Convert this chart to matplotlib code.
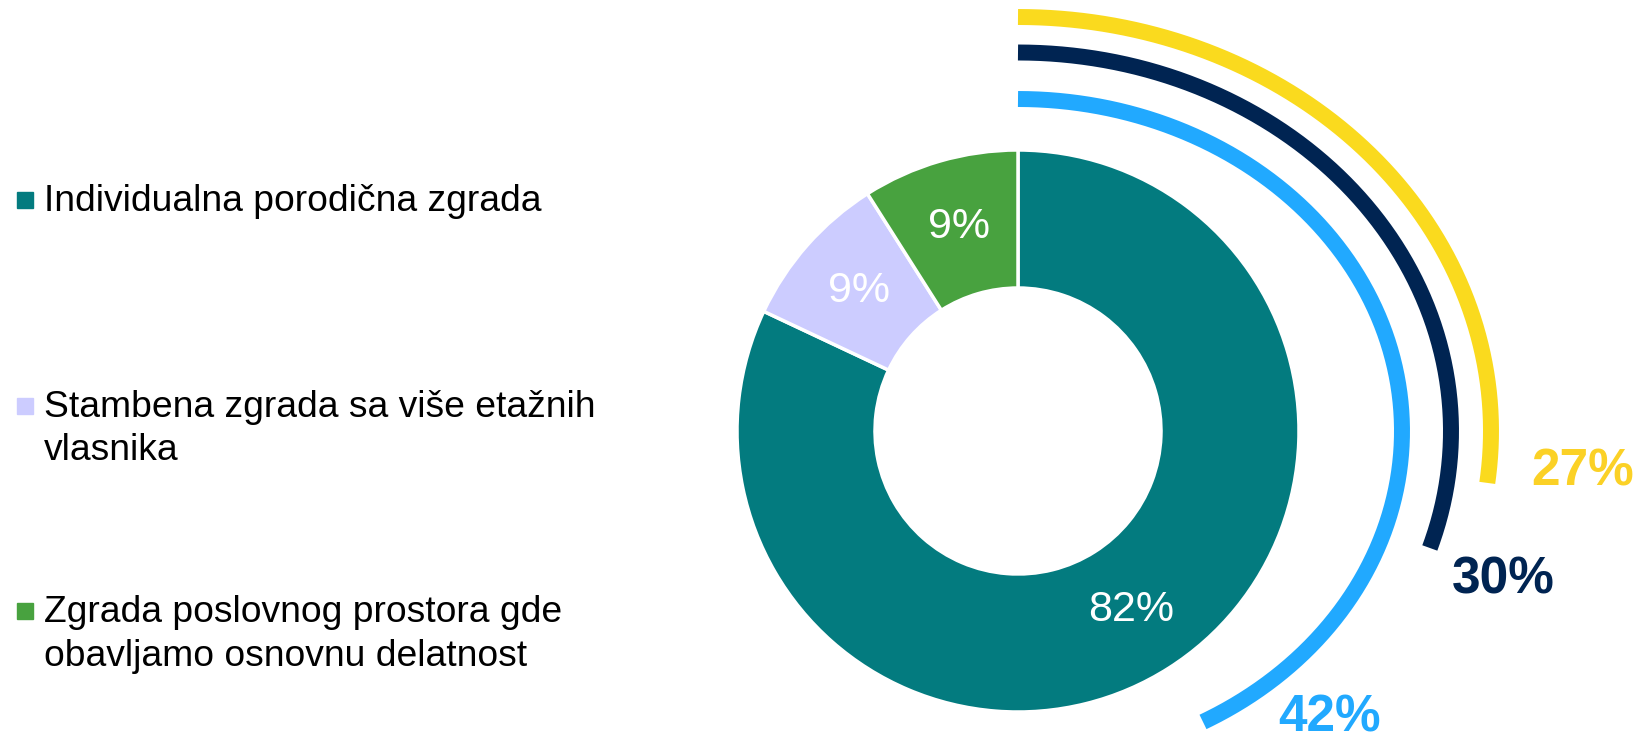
import numpy as np
import matplotlib
matplotlib.use("Agg")
import matplotlib.pyplot as plt

plt.rcParams['font.family'] = ['Liberation Sans', 'DejaVu Sans']

# ---- data ----
categories = ["Individualna porodična zgrada",
              "Stambena zgrada sa više etažnih\nvlasnika",
              "Zgrada poslovnog prostora gde\nobavljamo osnovnu delatnost"]
shares = [82, 9, 9]
slice_colors = ["#037B7F", "#CCCCFF", "#48A23F"]

arc_values = [42, 30, 27]          # percent
arc_labels = ["42%", "30%", "27%"]
arc_colors = ["#21A9FF", "#002452", "#FADA1E"]
arc_text_colors = ["#21A9FF", "#002452", "#FBD126"]

W, H = 1649, 741
fig = plt.figure(figsize=(W / 100, H / 100), dpi=100)
ax = fig.add_axes([0, 0, 1, 1])

# donut geometry (pixel coordinates, y up)
cx, cy = 1018, H - 431
R_out, R_in = 281, 143

wedges, texts, autotexts = ax.pie(
    shares, colors=slice_colors, startangle=90, counterclock=False,
    center=(cx, cy), radius=R_out,
    wedgeprops=dict(width=R_out - R_in, edgecolor="white", linewidth=2.5),
    autopct=lambda p: f"{p:.0f}%", pctdistance=(R_out + R_in) / 2 / R_out,
    textprops=dict(color="white", fontsize=31))

# outer elliptical arcs
arc_b = [332, 378.5, 414]
arc_a = [384, 433, 473]
label_pos = [(1330, H - 731), (1503, H - 593), (1583, H - 486)]
for v, lab, col, tcol, a, b, (lx, ly) in zip(arc_values, arc_labels, arc_colors,
                                             arc_text_colors, arc_a, arc_b, label_pos):
    t = np.linspace(0, v / 100 * 2 * np.pi, 300)
    ax.plot(cx + a * np.sin(t), cy + b * np.cos(t), color=col, lw=11.5,
            solid_capstyle="butt")
    ax.text(lx, ly, lab, color=tcol, fontsize=37, fontweight="bold",
            ha="center", va="baseline")

# legend (manual)
leg_base = [210.7, 416.7, 622.3]
line_step = 43.5
for cat, col, yb in zip(categories, slice_colors, leg_base):
    ax.plot([25.3], [H - (yb - 11)], marker="s", markersize=11.5, color=col,
            ls="none")
    for j, line in enumerate(cat.split("\n")):
        ax.text(44, H - (yb + j * line_step), line, fontsize=26.8, color="black",
                ha="left", va="baseline")

ax.set_xlim(0, W)
ax.set_ylim(0, H)
ax.set_aspect("equal")
ax.axis("off")
fig.savefig("out.png", dpi=100, facecolor="white")
